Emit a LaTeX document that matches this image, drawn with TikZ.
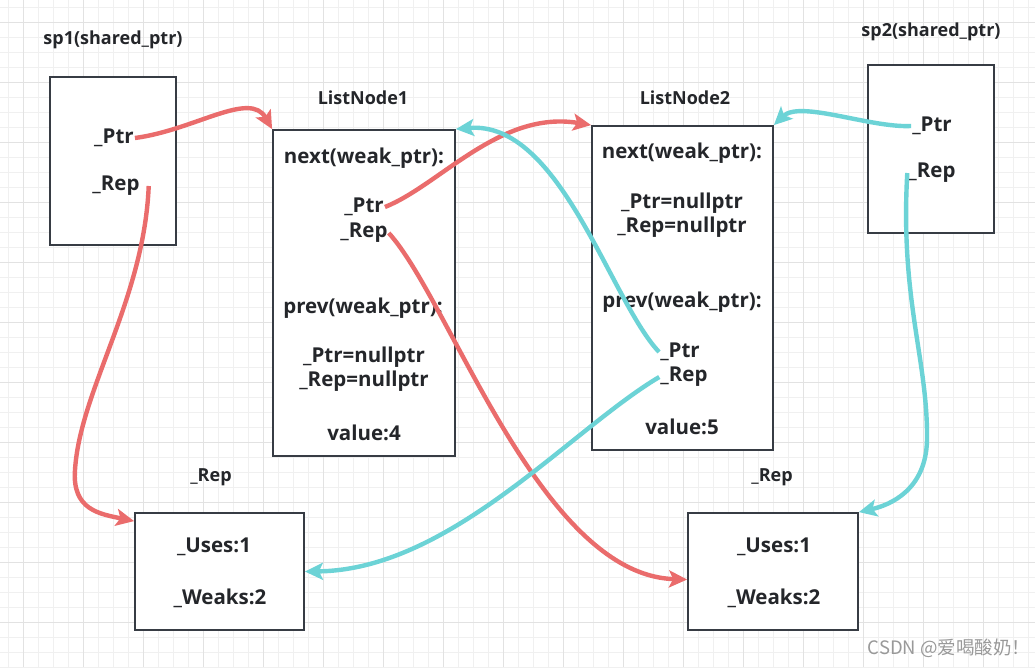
\documentclass[tikz,border=0pt]{standalone}
\usepackage{fontspec}
\setmainfont{Open Sans}
\newfontfamily\cjkfont{Noto Sans CJK SC}
\usepackage{tikz}
\usetikzlibrary{arrows.meta}

\definecolor{linkred}{RGB}{234,108,108}
\definecolor{linkcyan}{RGB}{108,211,214}
\definecolor{boxgray}{RGB}{55,60,68}
\definecolor{txtdark}{RGB}{36,38,42}
\definecolor{gridminor}{RGB}{240,240,240}
\definecolor{gridmajor}{RGB}{226,226,226}

\tikzset{
  memblock/.style={draw=boxgray, line width=1.8pt, fill=white, rectangle, inner sep=0pt},
  fieldtxt/.style={font=\bfseries\fontsize{20.5}{22}\selectfont, text=txtdark, inner sep=1pt},
  titletxt/.style={font=\bfseries\fontsize{18}{20}\selectfont, text=txtdark},
  redlink/.style={draw=linkred, line width=4.4pt, -{Stealth[length=18pt,width=17pt,inset=4pt]}},
  cyanlink/.style={draw=linkcyan, line width=4.4pt, -{Stealth[length=18pt,width=17pt,inset=4pt]}}
}

\begin{document}
\begin{tikzpicture}[x=1pt, y=-1pt]
  \useasboundingbox (0,0) rectangle (1035,667);
  \fill[white] (0,0) rectangle (1035,667);
  % background grid
  \foreach \x in {8,23,...,1035} {\draw[gridminor, line width=0.8pt] (\x,0) -- (\x,667);}
  \foreach \y in {7,22,...,667} {\draw[gridminor, line width=0.8pt] (0,\y) -- (1035,\y);}
  \foreach \x in {23,83,...,1035} {\draw[gridmajor, line width=1pt] (\x,0) -- (\x,667);}
  \foreach \y in {22,82,...,667} {\draw[gridmajor, line width=1pt] (0,\y) -- (1035,\y);}

  % the two shared_ptr objects
  \node[titletxt] (sp1title) at (113,40) {sp1(shared\_ptr)};
  \node[memblock, minimum width=126pt, minimum height=168pt] (sp1) at (113,161) {};
  \node[fieldtxt] (sp1ptr) at (114,138) {\_Ptr};
  \node[fieldtxt] (sp1rep) at (116,186) {\_Rep};

  \node[titletxt] (sp2title) at (931,32) {sp2(shared\_ptr)};
  \node[memblock, minimum width=126pt, minimum height=168pt] (sp2) at (931,149) {};
  \node[fieldtxt] (sp2ptr) at (932,126) {\_Ptr};
  \node[fieldtxt] (sp2rep) at (932,173) {\_Rep};

  % list nodes
  \node[titletxt] (ln1title) at (363,98) {ListNode1};
  \node[memblock, minimum width=182pt, minimum height=326pt] (ln1) at (364,293) {};
  \node[fieldtxt] (ln1next) at (364,158) {next(weak\_ptr):};
  \node[fieldtxt] (ln1ptr) at (364,207) {\_Ptr};
  \node[fieldtxt] (ln1rep) at (364,233) {\_Rep};
  \node[fieldtxt] (ln1prev) at (363,308) {prev(weak\_ptr):};
  \node[fieldtxt] (ln1pnull) at (364,357) {\_Ptr=nullptr};
  \node[fieldtxt] (ln1rnull) at (364,381) {\_Rep=nullptr};
  \node[fieldtxt] (ln1val) at (364,433) {value:4};

  \node[titletxt] (ln2title) at (685,98) {ListNode2};
  \node[memblock, minimum width=181pt, minimum height=324pt] (ln2) at (682.5,288) {};
  \node[fieldtxt] (ln2next) at (682,153) {next(weak\_ptr):};
  \node[fieldtxt] (ln2pnull) at (682,203) {\_Ptr=nullptr};
  \node[fieldtxt] (ln2rnull) at (682,227) {\_Rep=nullptr};
  \node[fieldtxt] (ln2prev) at (682,302) {prev(weak\_ptr):};
  \node[fieldtxt] (ln2ptr) at (680,352) {\_Ptr};
  \node[fieldtxt] (ln2rep) at (684,377) {\_Rep};
  \node[fieldtxt] (ln2val) at (682,427) {value:5};

  % control blocks
  \node[titletxt] (replabel1) at (211,477) {\_Rep};
  \node[memblock, minimum width=169pt, minimum height=117pt] (rep1) at (219.5,571.5) {};
  \node[fieldtxt] (rep1uses) at (214,547) {\_Uses:1};
  \node[fieldtxt] (rep1weaks) at (220,598) {\_Weaks:2};

  \node[titletxt] (replabel2) at (772,477) {\_Rep};
  \node[memblock, minimum width=170pt, minimum height=117pt] (rep2) at (773,571.5) {};
  \node[fieldtxt] (rep2uses) at (774,547) {\_Uses:1};
  \node[fieldtxt] (rep2weaks) at (774,598) {\_Weaks:2};

  \node[font=\cjkfont\fontsize{18.5}{20}\selectfont, text=black!40] (wmark) at (949,648) {CSDN @爱喝酸奶！};

  % links
  \draw[redlink] (sp1ptr.east) .. controls (195,130) and (250,90) .. (ln1.north west);
  \draw[redlink] ([xshift=8pt]sp1rep.east) .. controls (144,300) and (80,390) .. (75,470) .. controls (72,510) and (100,514) .. ([yshift=-9pt]rep1.north west);
  \draw[redlink] (ln1ptr.east) .. controls (440,185) and (500,110) .. (ln2.north west);
  \draw[redlink] (ln1rep.east) .. controls (450,300) and (540,575) .. ([yshift=-8pt]rep2.west);

  \draw[cyanlink] (sp2ptr.west) .. controls (870,128) and (800,100) .. (ln2.north east);
  \draw[cyanlink] (sp2rep.west) .. controls (900,300) and (928,360) .. (927,440) .. controls (926,490) and (890,505) .. (rep2.north east);
  \draw[cyanlink] (ln2ptr.west) .. controls (610,300) and (560,120) .. (ln1.north east);
  \draw[cyanlink] (ln2rep.west) .. controls (570,430) and (450,570) .. (rep1.east);
\end{tikzpicture}
\end{document}
